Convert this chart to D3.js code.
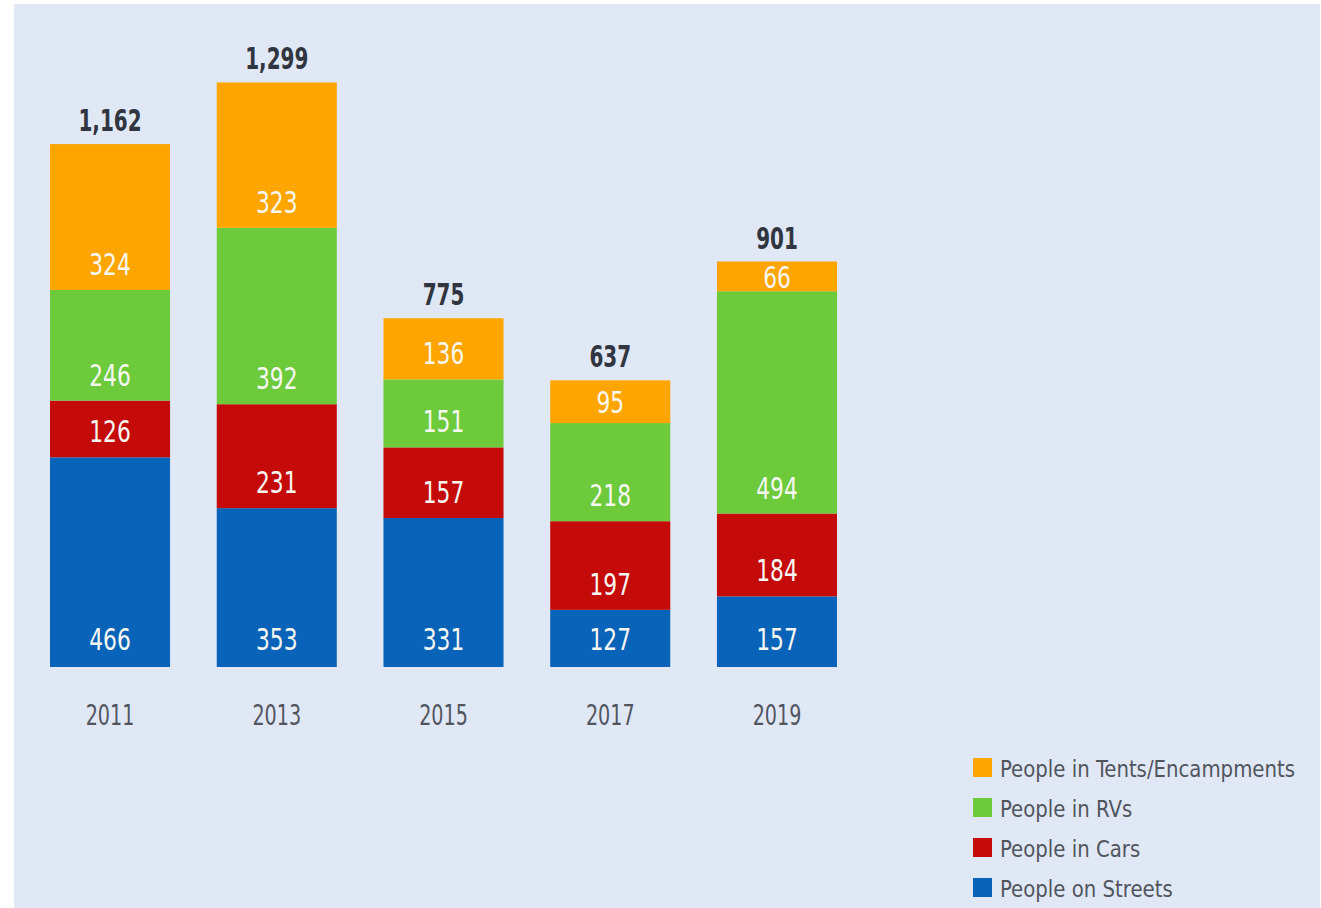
<!DOCTYPE html>
<html><head><meta charset="utf-8">
<script src="https://cdn.jsdelivr.net/npm/d3@7"></script>
<style>
html,body{margin:0;padding:0;background:#fff;}
svg{display:block;}
</style></head>
<body>
<svg id="chart" width="1321" height="908"></svg>
<script>
const years = ["2011","2013","2015","2017","2019"];
const streets = [466,353,331,127,157];
const cars    = [126,231,157,197,184];
const rvs     = [246,392,151,218,494];
const tents   = [324,323,136,95,66];
const seriesKeys   = ["streets","cars","rvs","tents"];
const seriesNames  = ["People on Streets","People in Cars","People in RVs","People in Tents/Encampments"];
const seriesColors = ["#0963b8","#c50a0a","#6cca3b","#fea500"];

const rows = years.map((y,i)=>({year:y, streets:streets[i], cars:cars[i], rvs:rvs[i], tents:tents[i]}));
const FONT = "'DejaVu Sans Condensed','DejaVu Sans',sans-serif";

function narrow(sel, f){
  sel.each(function(){
    const w=this.getComputedTextLength();
    this.setAttribute("textLength", (w*f).toFixed(2));
    this.setAttribute("lengthAdjust","spacingAndGlyphs");
  });
}

const svg = d3.select("#chart");
svg.append("rect").attr("x",14).attr("y",4).attr("width",1306).attr("height",904).attr("fill","#e1e8f5");

const x = d3.scaleBand().domain(years).range([50,837]).paddingInner(0.28);
const y = d3.scaleLinear().domain([0,1300]).range([667,82]);

const stack = d3.stack().keys(seriesKeys)(rows);

const g = svg.append("g");
stack.forEach((layer,li)=>{
  const lg = g.append("g");
  lg.selectAll("rect").data(layer).join("rect")
    .attr("x",d=>x(d.data.year))
    .attr("width",x.bandwidth())
    .attr("y",d=>y(d[1]))
    .attr("height",d=>y(d[0])-y(d[1]))
    .attr("fill",seriesColors[li]);
  lg.selectAll("text").data(layer).join("text")
    .attr("x",d=>x(d.data.year)+x.bandwidth()/2)
    .attr("y",d=>{
      const bot=y(d[0]), top=y(d[1]);
      const pad = li===0 ? 17 : 15;
      return Math.max(bot-pad,(bot+top)/2+11.5);
    })
    .attr("text-anchor","middle")
    .attr("fill","#f7f7f2")
    .attr("font-family",FONT)
    .attr("font-size",31)
    .text(d=>d.data[seriesKeys[li]])
    .call(narrow,0.78);
});

// totals
g.selectAll("text.total").data(rows).join("text").attr("class","total")
  .attr("x",d=>x(d.year)+x.bandwidth()/2)
  .attr("y",d=>y(d.streets+d.cars+d.rvs+d.tents)-13)
  .attr("text-anchor","middle")
  .attr("fill","#30353f")
  .attr("font-family",FONT)
  .attr("font-weight","bold")
  .attr("font-size",30)
  .text(d=>d3.format(",")(d.streets+d.cars+d.rvs+d.tents))
  .call(narrow,0.74);

// x axis
const xAxis = d3.axisBottom(x).tickSize(0).tickPadding(0);
const ax = svg.append("g").attr("transform","translate(0,700)").call(xAxis);
ax.select(".domain").remove();
ax.selectAll("text").attr("font-family",FONT).attr("font-size",28).attr("fill","#50555e").attr("dy","0.9em")
  .call(narrow,0.76);

// legend
const legOrder = [3,2,1,0];
const leg = svg.append("g");
const legTexts = [];
legOrder.forEach((si,k)=>{
  const yy = 777 + k*40;
  leg.append("rect").attr("x",973).attr("y",yy-19).attr("width",19).attr("height",19).attr("fill",seriesColors[si]);
  legTexts.push(leg.append("text").attr("x",1000).attr("y",yy).attr("font-family",FONT).attr("font-size",23)
    .attr("fill","#50555e").text(seriesNames[si]));
});
const legF = 295 / legTexts[0].node().getComputedTextLength();
legTexts.forEach(t=>t.call(narrow,legF));
</script>
</body></html>
